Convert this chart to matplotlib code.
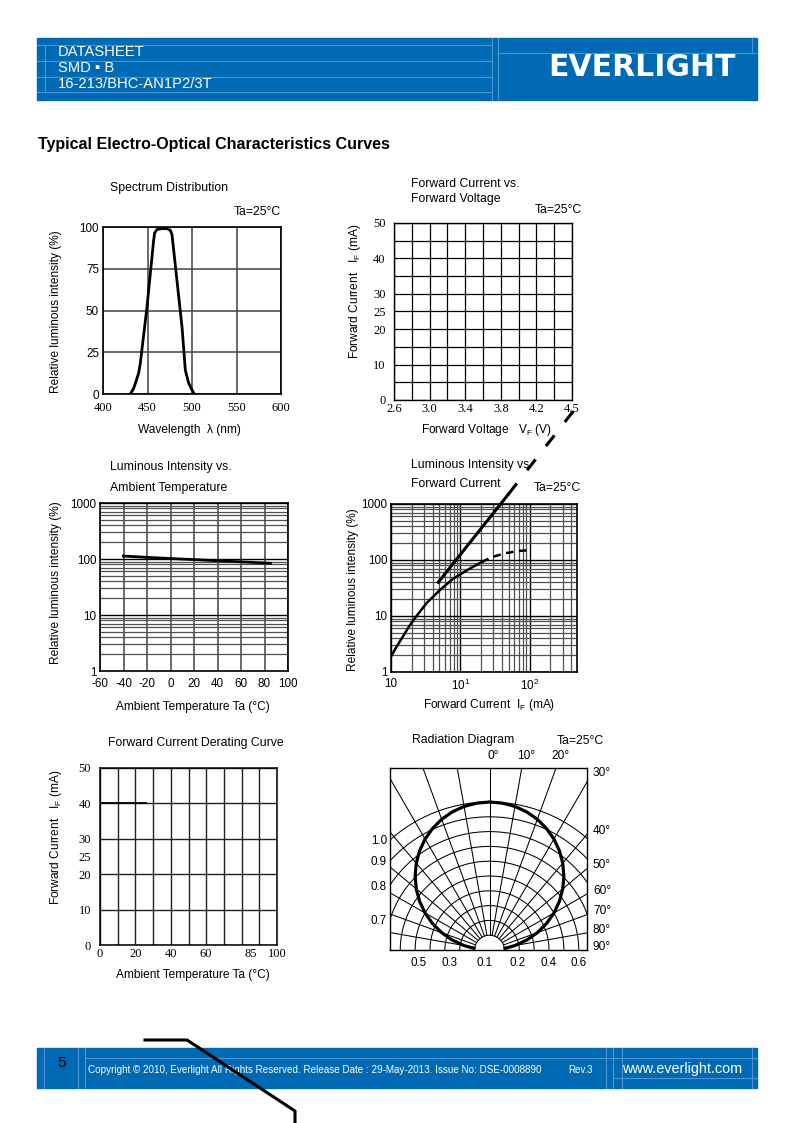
import numpy as np
import matplotlib
matplotlib.use('Agg')
import matplotlib.pyplot as plt
from matplotlib.patches import Rectangle
from matplotlib.ticker import NullFormatter, FixedLocator, LogLocator

W, H = 794, 1123
SANS = 'Liberation Sans'
SERIF = 'Liberation Serif'
plt.rcParams['font.family'] = [SANS, 'DejaVu Sans']
plt.rcParams['mathtext.default'] = 'regular'

# ---------------- data ----------------
spec_wavelength = [430.7, 434.5, 440.0, 441.9, 449.4, 456.9, 458.0, 460.7, 465.2,
                   472.0, 475.7, 477.5, 483.1, 488.8, 492.5, 496.3, 500.0, 502.6]
spec_intensity = [0, 3.4, 12.4, 18.3, 52, 92, 96.5, 98.5, 99,
                  99, 98, 95.5, 68, 40, 14.3, 6.4, 2.4, 0]

vf_ticks = [2.6, 3.0, 3.4, 3.8, 4.2, 4.6]
vf_tick_labels = ['2.6', '3.0', '3.4', '3.8', '4.2', '4.5']
if_ticks = [0, 10, 20, 25, 30, 40, 50]

ta_temp = [-40, -20, 0, 20, 40, 60, 85]
ta_rel = [113, 107, 102, 97.5, 93, 89, 84]
ta_ticks = [-60, -40, -20, 0, 20, 40, 60, 80, 100]

ifc_solid = [1.0, 1.22, 1.50, 1.82, 2.22, 3.27, 5.09, 7.77, 13.0, 20.4]
ifr_solid = [1.89, 2.91, 4.39, 6.49, 9.2, 17.1, 29.1, 45.8, 67.7, 92.1]
ifc_dashed = [20.4, 28.4, 44.2, 68.7, 94]
ifr_dashed = [92.1, 112, 132, 145, 149]
ifc_upper = [4.81, 49.3]
ifr_upper = [40, 1490]
ifc_upper_ext = [49.3, 540]
ifr_upper_ext = [1490, 66000]

der_temp = [0, 26]
der_if = [40, 40]
der_ticks = [0, 20, 40, 60, 85, 100]

rad_angle = [-84, -80, -75, -70, -65, -60, -55, -50, -45, -40, -35, -30, -25, -20, -15, -10, -5,
             0, 5, 10, 15, 20, 25, 30, 35, 40, 45, 50, 55, 60, 65, 70, 75, 80, 84]
rad_intensity = [0.105, 0.174, 0.259, 0.342, 0.423, 0.500, 0.574, 0.643, 0.707, 0.766, 0.819,
                 0.866, 0.906, 0.940, 0.966, 0.985, 0.996, 1.000, 0.996, 0.985, 0.966, 0.940,
                 0.906, 0.866, 0.819, 0.766, 0.707, 0.643, 0.574, 0.500, 0.423, 0.342, 0.259,
                 0.174, 0.105]
rad_rings = [0.1, 0.2, 0.3, 0.4, 0.5, 0.6, 0.7, 0.8, 0.9, 1.0]
rad_spokes = list(range(-90, 91, 10))
rad_left_labels = [0.7, 0.8, 0.9, 1.0]
rad_bottom_labels = ['0.5', '0.3', '0.1', '0.2', '0.4', '0.6']
rad_right_angles = [30, 40, 50, 60, 70, 80, 90]
rad_top_angles = [0, 10, 20]

footer_stray_x = [145, 187, 295, 295]
footer_stray_y = [1040, 1040, 1111, 1123]

BLUE = '#0069b4'
LBLUE = '#4f93d2'

fig = plt.figure(figsize=(W / 100, H / 100), dpi=100)
bg = fig.add_axes([0, 0, 1, 1])
bg.set_xlim(0, W)
bg.set_ylim(H, 0)
bg.axis('off')


def add_ax(l, t, r, b):
    ax = fig.add_axes([l / W, 1 - b / H, (r - l) / W, (b - t) / H])
    ax._box = (l, t, r, b)
    return ax


def frac(ax, px, py):
    l, t, r, b = ax._box
    return (px - l) / (r - l), (b - py) / (b - t)


def labels(ax, xl, xpos, yl, ypos, fs=8.6):
    ax.set_xlabel(xl, fontsize=fs, family=[SANS, 'DejaVu Sans'])
    ax.xaxis.set_label_coords(*frac(ax, *xpos))
    ax.xaxis.label.set_va('center')
    ax.set_ylabel(yl, fontsize=fs, family=[SANS, 'DejaVu Sans'])
    ax.yaxis.set_label_coords(*frac(ax, *ypos))
    ax.yaxis.label.set_va('center')


def ptext(x, y, s, **kw):
    kw.setdefault('va', 'center')
    kw.setdefault('fontsize', 8.8)
    bg.text(x, y, s, **kw)


def spines(ax, lw=1.2):
    for s in ax.spines.values():
        s.set_linewidth(lw)
        s.set_color('black')
        s.set_zorder(4)


# ---------------- header / footer ----------------
bg.add_patch(Rectangle((37, 38), 720, 62, color=BLUE, zorder=1))
for y in [45, 61, 77, 92]:
    bg.plot([37, 492], [y, y], color=LBLUE, lw=0.8, zorder=2)
bg.plot([498, 757], [53, 53], color=LBLUE, lw=0.8, zorder=2)
for x in [45]:
    bg.plot([x, x], [45, 92], color=LBLUE, lw=0.8, zorder=2)
for x in [492, 498]:
    bg.plot([x, x], [38, 100], color=LBLUE, lw=0.8, zorder=2)
bg.plot([752, 752], [38, 53], color=LBLUE, lw=0.8, zorder=2)
ptext(58, 52, 'DATASHEET', color='white', fontsize=10.6, zorder=3)
ptext(58, 68, 'SMD ▪ B', color='white', fontsize=10.6, zorder=3)
ptext(58, 84, '16-213/BHC-AN1P2/3T', color='white', fontsize=10.6, zorder=3)
ptext(642, 68, 'EVERLIGHT', color='white', fontsize=21.5, fontweight='bold',
      family='DejaVu Sans', ha='center', zorder=3)

ptext(38, 145, 'Typical Electro-Optical Characteristics Curves', fontsize=11.5,
      fontweight='bold')

bg.add_patch(Rectangle((37, 1048), 720, 40, color=BLUE, zorder=1))
for x in [44, 78, 85, 606, 613, 622, 752]:
    bg.plot([x, x], [1048, 1088], color=LBLUE, lw=0.8, zorder=2)
bg.plot([85, 757], [1058, 1058], color=LBLUE, lw=0.8, zorder=2)
bg.plot([613, 757], [1078, 1078], color=LBLUE, lw=0.8, zorder=2)
ptext(62, 1063, '5', color='black', fontsize=11, ha='center', zorder=3)
ptext(88, 1070, 'Copyright © 2010, Everlight All Rights Reserved. Release Date : 29-May-2013. '
      'Issue No: DSE-0008890', color='white', fontsize=7.15, zorder=3)
ptext(568, 1070, 'Rev.3', color='white', fontsize=7.0, zorder=3)
ptext(682, 1069, 'www.everlight.com', color='white', fontsize=10.4, ha='center', zorder=3)
bg.plot(footer_stray_x, footer_stray_y, color='black', lw=2.2, zorder=10,
        solid_joinstyle='miter')

# ---------------- chart 1: spectrum ----------------
ax1 = add_ax(103, 227, 281, 394)
ax1.plot(spec_wavelength, spec_intensity, color='black', lw=2.0, zorder=3,
         solid_joinstyle='round')
ax1.set_xlim(400, 600)
ax1.set_ylim(0, 100)
ax1.set_xticks([400, 450, 500, 550, 600], ['400', '450', '500', '550', '600'],
               family=SERIF, fontsize=9)
ax1.set_yticks([0, 25, 50, 75, 100], ['0', '25', '50', '75', '100'], fontsize=8.4)
ax1.grid(True, color='#404040', lw=1.1)
ax1.tick_params(length=0)
ax1.tick_params(axis='x', pad=5.7)
ax1.tick_params(axis='y', pad=2.9)
spines(ax1)
labels(ax1, 'Wavelength  λ (nm)', (189, 430), 'Relative luminous intensity (%)', (56, 312))
ptext(110, 188, 'Spectrum Distribution')
ptext(281, 212, 'Ta=25°C', ha='right')

# ---------------- chart 2: IF vs VF ----------------
ax2 = add_ax(394, 223, 572, 400)
ax2.set_xlim(2.6, 4.6)
ax2.set_ylim(0, 50)
ax2.set_xticks(vf_ticks, vf_tick_labels, family=SERIF, fontsize=9)
ax2.xaxis.set_minor_locator(FixedLocator([2.8, 3.2, 3.6, 4.0, 4.4]))
ax2.set_yticks(if_ticks, [str(v) for v in if_ticks], family=SERIF, fontsize=9)
ax2.yaxis.set_minor_locator(FixedLocator([5, 15, 35, 45]))
ax2.grid(True, which='both', color='black', lw=0.9)
ax2.tick_params(which='both', length=0)
ax2.tick_params(axis='x', pad=2.5)
ax2.tick_params(axis='y', pad=6)
spines(ax2, 1.0)
labels(ax2, r'Forward Voltage   $V_F$ (V)', (486, 430),
       r'Forward Current   $I_F$ (mA)', (355, 291))
ptext(411, 184, 'Forward Current vs.')
ptext(411, 199, 'Forward Voltage')
ptext(582, 210, 'Ta=25°C', ha='right')

# ---------------- chart 3: IV vs Ta ----------------
ax3 = add_ax(100, 503, 288, 671)
ax3.plot(ta_temp, ta_rel, color='black', lw=2.0, zorder=3)
ax3.set_yscale('log')
ax3.set_xlim(-60, 100)
ax3.set_ylim(1, 1000)
ax3.set_xticks(ta_ticks, [str(v) for v in ta_ticks], fontsize=8.4)
ax3.set_yticks([1, 10, 100, 1000], ['1', '10', '100', '1000'], fontsize=8.4)
ax3.yaxis.set_minor_locator(LogLocator(base=10, subs=np.arange(2, 10)))
ax3.yaxis.set_minor_formatter(NullFormatter())
ax3.grid(True, which='major', axis='y', color='black', lw=1.0)
ax3.grid(True, which='minor', axis='y', color='#505050', lw=0.9)
ax3.grid(True, which='major', axis='x', color='#505050', lw=1.2)
ax3.tick_params(which='both', length=0)
ax3.tick_params(axis='x', pad=4.7)
ax3.tick_params(axis='y', pad=2.5)
spines(ax3)
labels(ax3, 'Ambient Temperature Ta (°C)', (193, 707),
       'Relative luminous intensity (%)', (56, 583))
ptext(110, 467, 'Luminous Intensity vs.')
ptext(110, 488, 'Ambient Temperature')

# ---------------- chart 4: IV vs IF ----------------
ax4 = add_ax(391, 504, 577, 672)
ax4.set_xscale('log')
ax4.set_yscale('log')
ax4.set_xlim(1, 483)
ax4.set_ylim(1, 1000)
ax4.plot(ifc_solid, ifr_solid, color='black', lw=1.8, zorder=3, solid_joinstyle='round')
ax4.plot(ifc_dashed, ifr_dashed, color='black', lw=1.8, zorder=3, linestyle=(0, (3, 2.2)))
ax4.plot(ifc_upper, ifr_upper, color='black', lw=2.2, zorder=5, clip_on=False)
ax4.plot(ifc_upper_ext, ifr_upper_ext, color='black', lw=2.2, zorder=5, clip_on=False,
         linestyle=(0, (4.5, 5.5)))
ax4.set_xticks([1, 10, 100], ['10', r'$10^1$', r'$10^2$'], fontsize=8.4)
ax4.set_yticks([1, 10, 100, 1000], ['1', '10', '100', '1000'], fontsize=8.4)
for axis in (ax4.xaxis, ax4.yaxis):
    axis.set_minor_locator(LogLocator(base=10, subs=np.arange(2, 10)))
    axis.set_minor_formatter(NullFormatter())
ax4.grid(True, which='major', color='black', lw=1.0)
ax4.grid(True, which='minor', color='#505050', lw=0.9)
ax4.tick_params(which='both', length=0)
ax4.tick_params(axis='x', pad=4.2)
ax4.tick_params(axis='y', pad=2.5)
spines(ax4)
labels(ax4, r'Forward Current  $I_F$ (mA)', (489, 705),
       'Relative luminous intensity (%)', (353, 590))
ptext(411, 465, 'Luminous Intensity vs')
ptext(411, 484, 'Forward Current')
ptext(581, 488, 'Ta=25°C', ha='right')

# ---------------- chart 5: derating ----------------
ax5 = add_ax(100, 768, 277, 945)
ax5.plot(der_temp, der_if, color='black', lw=1.3, zorder=3)
ax5.set_xlim(0, 100)
ax5.set_ylim(0, 50)
ax5.xaxis.remove_overlapping_locs = False
ax5.yaxis.remove_overlapping_locs = False
ax5.set_xticks(der_ticks, [str(v) for v in der_ticks], family=SERIF, fontsize=9)
ax5.xaxis.set_minor_locator(FixedLocator(list(range(0, 101, 10))))
ax5.set_yticks(if_ticks, [str(v) for v in if_ticks], family=SERIF, fontsize=9)
ax5.yaxis.set_minor_locator(FixedLocator(list(range(0, 51, 10))))
ax5.grid(True, which='minor', color='#202020', lw=1.0)
ax5.grid(False, which='major')
ax5.tick_params(which='both', length=0)
ax5.tick_params(axis='x', pad=2.5)
ax5.tick_params(axis='y', pad=6.5)
spines(ax5, 1.1)
labels(ax5, 'Ambient Temperature Ta (°C)', (193, 975),
       r'Forward Current   $I_F$ (mA)', (56, 837))
ptext(108, 743, 'Forward Current Derating Curve')

# ---------------- chart 6: radiation diagram ----------------
ax6 = add_ax(390, 768, 587, 950)
unit = 14.8
xmin, xmax = -99 / unit, 97 / unit
ytop = 182 / unit
ax6.set_xlim(xmin, xmax)
ax6.set_ylim(0, ytop)
th = np.radians(np.linspace(-90, 90, 361))
for ring in rad_rings:
    r = ring * 10
    ax6.plot(r * np.sin(th), r * np.cos(th), color='black', lw=0.75, zorder=2)
for a in rad_spokes:
    ar = np.radians(a)
    ax6.plot([np.sin(ar), 25 * np.sin(ar)], [np.cos(ar), 25 * np.cos(ar)],
             color='black', lw=0.75, zorder=2)
ang = np.radians(np.array(rad_angle, dtype=float))
rr = 10 * np.array(rad_intensity)
ax6.plot(rr * np.sin(ang), rr * np.cos(ang), color='black', lw=2.3, zorder=3)
ax6.set_xticks([-4.8, -2.7, -0.34, 1.9, 4.0, 6.0], rad_bottom_labels, fontsize=8.4)
left_y = [np.sqrt((v * 10) ** 2 - xmin ** 2) for v in rad_left_labels]
ax6.set_yticks(left_y, ['%.1f' % v for v in rad_left_labels], fontsize=8.4)
ax6.tick_params(length=0)
ax6.tick_params(axis='x', pad=4.7)
ax6.tick_params(axis='y', pad=2.2)
for a in rad_right_angles:
    ar = np.radians(a)
    yc = xmax / np.tan(ar) if a < 90 else 0.0
    ax6.text(xmax + 0.4, yc + (0.6 if a == 30 else 0.22), '%d°' % a, fontsize=8.6,
             ha='left', va='center', clip_on=False)
for a in rad_top_angles:
    ar = np.radians(a)
    ax6.text(ytop * np.tan(ar) + 0.27, ytop + 0.8, '%d°' % a, fontsize=8.6, ha='center',
             va='center', clip_on=False)
spines(ax6, 1.0)
ptext(412, 740, 'Radiation Diagram')
ptext(604, 741, 'Ta=25°C', ha='right')

fig.savefig('out.png', dpi=100)
